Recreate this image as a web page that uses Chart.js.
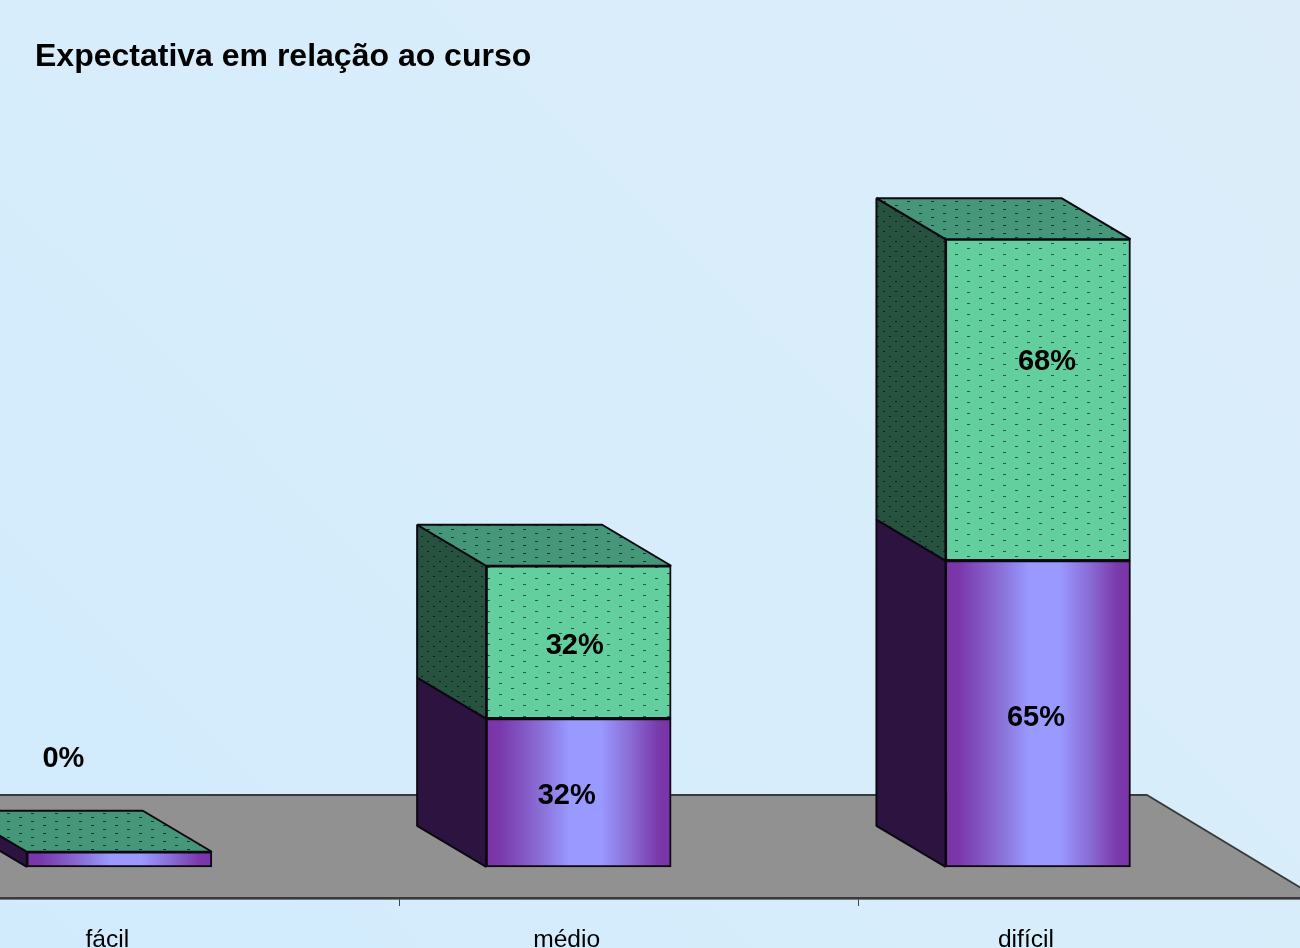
<!DOCTYPE html>
<html lang="pt">
<head>
<meta charset="UTF-8">
<title>Expectativa em relação ao curso</title>
<script src="https://cdn.jsdelivr.net/npm/chart.js@4/dist/chart.umd.js"></script>
<style>
  html, body { margin: 0; width: 1300px; height: 948px; overflow: hidden; position: relative; }
  body { background: linear-gradient(45deg, #d1ebfd 0%, #d7edfb 45%, #dcedf9 100%); }
  /* floor and axis run off both sides of the page */
  canvas { display: block; position: absolute; left: -100px; top: 0; }
</style>
</head>
<body>
<canvas id="chart" width="1450" height="948"></canvas>
<script>
const categories = ['fácil', 'médio', 'difícil'];
const purpleValues = [3.2, 31.4, 64.9];
const greenValues = [0, 32.4, 68.1];
const purpleLabels = ['0%', '32%', '65%'];
const greenLabels = ['', '32%', '68%'];
const titleText = 'Expectativa em relação ao curso';

// 3d look: front plane sits forward of the floor's front edge
const frontShift = -50;
const depthX = 69, depthY = 41;
const floorDepthX = 170.6, floorDepthY = 103;
const edge = '#0c0812';

// label offsets from the middle of each bar segment
const purpleNudge = [[-56, -100], [-12, 3], [-2, 4]];
const greenNudge = [[0, 0], [-4, 4], [9, -38]];

function dots(base, dot, w, h, len) {
  const c = document.createElement('canvas');
  c.width = w; c.height = h;
  const g = c.getContext('2d');
  g.fillStyle = base;
  g.fillRect(0, 0, w, h);
  g.fillStyle = dot;
  g.fillRect(1, 1, len, 1);
  g.fillRect(1 + w / 2, 1 + Math.floor(h / 2), len, 1);
  return c;
}

const ctx = document.getElementById('chart').getContext('2d');
const greenFront = ctx.createPattern(dots('#63cf9f', '#22583f', 24, 11, 3), 'repeat');
const greenTop = ctx.createPattern(dots('#46967a', '#123a2a', 24, 8, 3), 'repeat');
const greenSide = ctx.createPattern(dots('#275240', '#08201a', 12, 10, 2), 'repeat');
const purpleSide = '#2d1340';

function purpleFront(context) {
  const chart = context.chart;
  if (!chart.chartArea) return '#9999ff';
  const mid = chart.scales.x.getPixelForValue(context.dataIndex);
  const g = chart.ctx.createLinearGradient(mid - 92, 0, mid + 92, 0);
  g.addColorStop(0, '#7a33a6');
  g.addColorStop(0.08, '#7a3aac');
  g.addColorStop(0.3, '#8b70d8');
  g.addColorStop(0.45, '#9999ff');
  g.addColorStop(0.62, '#9999ff');
  g.addColorStop(0.78, '#8a6cd5');
  g.addColorStop(0.93, '#7a3aac');
  g.addColorStop(1, '#7a33a6');
  return g;
}

function poly(c, pts, fill, stroke) {
  c.beginPath();
  pts.forEach((p, i) => i ? c.lineTo(p[0], p[1]) : c.moveTo(p[0], p[1]));
  c.closePath();
  c.fillStyle = fill;
  c.fill();
  if (stroke) {
    c.strokeStyle = stroke;
    c.lineWidth = 2;
    c.lineJoin = 'bevel';
    c.stroke();
  }
}

const bars3d = {
  id: 'bars3d',
  afterLayout(chart) {
    // title starts at the page margin, not at the off-page axis start
    chart.titleBlock.left = 135;
  },
  beforeDatasetsDraw(chart) {
    const c = chart.ctx;
    const a = chart.chartArea;
    c.save();
    // floor
    poly(c, [[a.left, a.bottom], [a.right, a.bottom],
      [a.right - floorDepthX, a.bottom - floorDepthY],
      [a.left - floorDepthX, a.bottom - floorDepthY]], '#919191', '#3a3a3a');

    c.translate(frontShift, 0);
    const fills = [purpleSide, greenSide];
    categories.forEach((_, i) => {
      [0, 1].forEach(d => {
        const el = chart.getDatasetMeta(d).data[i];
        const l = el.x - el.width / 2;
        if (el.base - el.y < 0.5) return;
        poly(c, [[l, el.y], [l, el.base], [l - depthX, el.base - depthY], [l - depthX, el.y - depthY]],
          fills[d], edge);
      });
      const top = chart.getDatasetMeta(1).data[i];
      const l = top.x - top.width / 2, r = top.x + top.width / 2;
      poly(c, [[l, top.y], [r, top.y], [r - depthX, top.y - depthY], [l - depthX, top.y - depthY]],
        greenTop, edge);
    });
    c.restore();
    c.save();
    c.translate(frontShift, 0);
  },
  afterDatasetsDraw(chart) {
    const c = chart.ctx;
    c.restore();
    c.save();
    c.translate(frontShift, 0);
    c.fillStyle = '#000';
    c.font = 'bold 29px "Liberation Sans", Arial, sans-serif';
    c.textAlign = 'center';
    c.textBaseline = 'middle';
    [[purpleLabels, purpleNudge, 0], [greenLabels, greenNudge, 1]].forEach(([texts, nudge, d]) => {
      texts.forEach((t, i) => {
        if (!t) return;
        const el = chart.getDatasetMeta(d).data[i];
        c.fillText(t, el.x + nudge[i][0], (el.y + el.base) / 2 + nudge[i][1]);
      });
    });
    c.restore();
  }
};

new Chart(ctx, {
  type: 'bar',
  data: {
    labels: categories,
    datasets: [
      { label: 'série 1', data: purpleValues, backgroundColor: purpleFront, borderColor: edge, borderWidth: 2, borderSkipped: false, barThickness: 185 },
      { label: 'série 2', data: greenValues, backgroundColor: greenFront, borderColor: edge, borderWidth: 2, borderSkipped: false, barThickness: 185 }
    ]
  },
  options: {
    responsive: false,
    animation: false,
    layout: { padding: { left: 39.7, right: 32.4, top: 0, bottom: 0 } },
    plugins: {
      legend: { display: false },
      tooltip: { enabled: false },
      title: {
        display: true,
        text: titleText,
        align: 'start',
        color: '#000',
        font: { family: '"Liberation Sans", Arial, sans-serif', size: 32, weight: 'bold', lineHeight: 1.2 },
        padding: { top: 38, bottom: 8 }
      }
    },
    scales: {
      x: {
        stacked: true,
        afterFit: scale => { scale.height = 50; },
        grid: { drawOnChartArea: false, tickLength: 8, tickColor: '#444', offset: true },
        border: { color: '#111', width: 2.5 },
        ticks: {
          color: '#000',
          autoSkip: false,
          maxRotation: 0,
          labelOffset: -62,
          padding: 19,
          font: { family: '"Liberation Sans", Arial, sans-serif', size: 24.6 }
        }
      },
      y: {
        stacked: true,
        display: false,
        min: -6.6,
        max: 165.8
      }
    }
  },
  plugins: [bars3d]
});
</script>
</body>
</html>
